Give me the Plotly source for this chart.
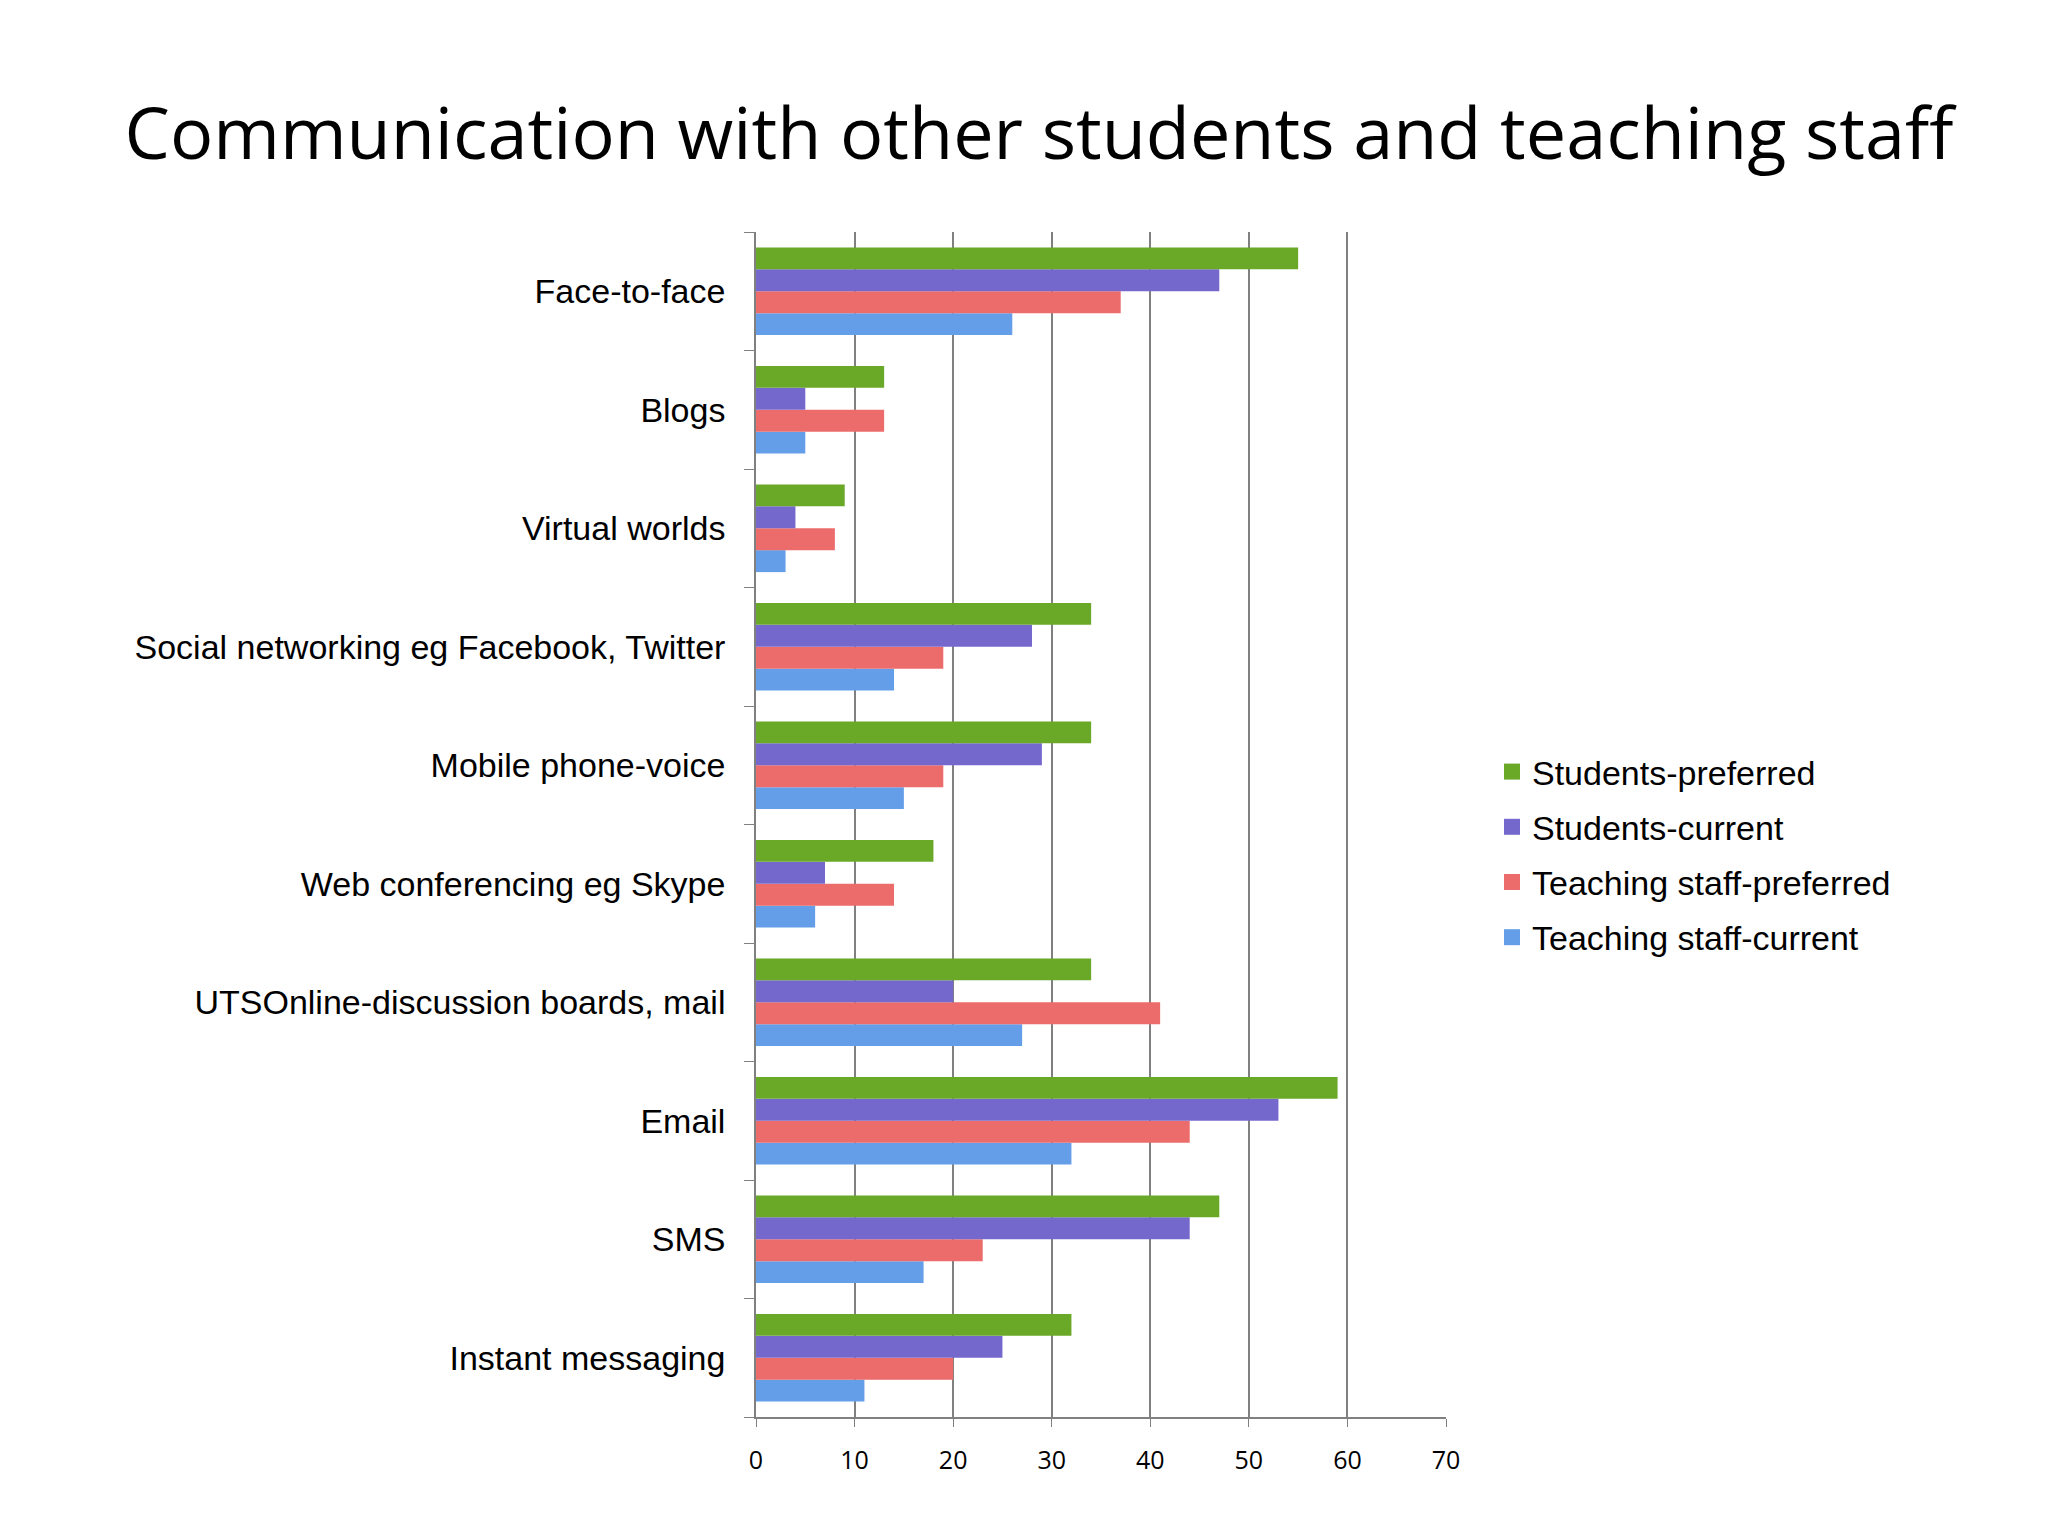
import plotly.graph_objects as go

# categories, top to bottom as in the picture
categories = [
    "Face-to-face",
    "Blogs",
    "Virtual worlds",
    "Social networking eg Facebook, Twitter",
    "Mobile phone-voice",
    "Web conferencing eg Skype",
    "UTSOnline-discussion boards, mail",
    "Email",
    "SMS",
    "Instant messaging",
]

students_preferred = [55, 13, 9, 34, 34, 18, 34, 59, 47, 32]
students_current = [47, 5, 4, 28, 29, 7, 20, 53, 44, 25]
staff_preferred = [37, 13, 8, 19, 19, 14, 41, 44, 23, 20]
staff_current = [26, 5, 3, 14, 15, 6, 27, 32, 17, 11]

x_ticks = [0, 10, 20, 30, 40, 50, 60, 70]

# drawn bottom-up inside each group, so the blue series goes first
series = [
    ("Teaching staff-current", staff_current, "#649ee9", 4),
    ("Teaching staff-preferred", staff_preferred, "#ec6b6b", 3),
    ("Students-current", students_current, "#7568cc", 2),
    ("Students-preferred", students_preferred, "#6aa828", 1),
]

fig = go.Figure()
for name, vals, col, rank in series:
    fig.add_trace(go.Bar(
        y=categories,
        x=vals,
        name=name,
        orientation="h",
        showlegend=False,
        marker=dict(color=col, line=dict(width=0)),
    ))

# legend-only entries so the swatches can be bigger squares
for name, vals, col, rank in series:
    fig.add_trace(go.Scatter(
        x=[None],
        y=[None],
        mode="markers",
        name=name,
        legendgroup=name,
        legendrank=rank,
        marker=dict(symbol="square", size=18, color=col),
    ))

# the page body adds 8px, so the figure is laid out 8px up/left of the picture
fig.update_layout(
    width=2048,
    height=1536,
    paper_bgcolor="white",
    plot_bgcolor="white",
    margin=dict(l=748, r=610, t=224, b=127, autoexpand=False),
    barmode="group",
    bargap=0.26,
    bargroupgap=0,
    title=dict(
        text="Communication with other students and teaching staff",
        x=1031 / 2048,
        xanchor="center",
        y=1 - 126 / 1536,
        yanchor="middle",
        yref="container",
        font=dict(family="Open Sans", size=72, color="black"),
    ),
    legend=dict(
        traceorder="grouped",
        x=(1492 - 756) / 690,
        xanchor="left",
        y=(1417 - 743) / 1185,
        yanchor="top",
        font=dict(family="Liberation Sans", size=34, color="black"),
        itemsizing="trace",
        itemwidth=30,
        tracegroupgap=8,
        bgcolor="rgba(0,0,0,0)",
    ),
    xaxis=dict(
        range=[0, 70],
        tickvals=x_ticks,
        showgrid=True,
        gridcolor="#808080",
        gridwidth=1.5,
        zeroline=False,
        showline=True,
        linecolor="#808080",
        linewidth=1.5,
        ticks="outside",
        ticklen=8,
        tickcolor="#808080",
        tickfont=dict(family="Open Sans", size=25, color="black"),
        ticklabelstandoff=12,
        automargin=False,
    ),
    yaxis=dict(
        categoryorder="array",
        categoryarray=categories[::-1],
        showline=True,
        linecolor="#808080",
        linewidth=1.5,
        ticks="outside",
        tickson="boundaries",
        ticklen=10,
        tickcolor="#808080",
        showgrid=False,
        tickfont=dict(family="Liberation Sans", size=34, color="black"),
        ticklabelstandoff=22,
        automargin=False,
    ),
)

fig.write_html("out.html")
